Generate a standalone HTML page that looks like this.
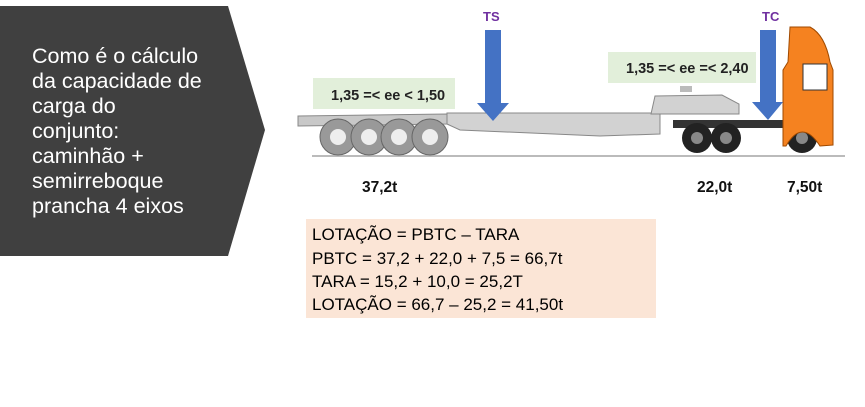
<!DOCTYPE html>
<html><head><meta charset="utf-8"><style>
body{margin:0;background:#fff;width:865px;height:402px;overflow:hidden}
</style></head><body>
<svg width="865" height="402" viewBox="0 0 865 402" xmlns="http://www.w3.org/2000/svg" font-family="Liberation Sans, sans-serif">
<polygon points="0,6 228,6 265,130 228,256 0,256" fill="#404040"/>
<g fill="#fff" font-size="21.5">
<text x="32" y="63">Como é o cálculo</text>
<text x="32" y="88">da capacidade de</text>
<text x="32" y="113">carga do</text>
<text x="32" y="138">conjunto:</text>
<text x="32" y="163">caminhão +</text>
<text x="32" y="188">semirreboque</text>
<text x="32" y="213">prancha 4 eixos</text>
</g>
<!-- green boxes -->
<rect x="313" y="78" width="142" height="31" fill="#e2efda"/>
<text x="331" y="100" font-size="14.5" font-weight="bold" fill="#222">1,35 =&lt; ee &lt; 1,50</text>
<rect x="608" y="52" width="148" height="31" fill="#e2efda"/>
<text x="626" y="73" font-size="14.5" font-weight="bold" fill="#222">1,35 =&lt; ee =&lt; 2,40</text>
<!-- ground -->
<line x1="312" y1="156" x2="845" y2="156" stroke="#bbb" stroke-width="2"/>
<!-- trailer -->
<polygon points="298,116 447,114 447,124 298,126" fill="#c8c8c8" stroke="#888"/>
<polygon points="447,113 660,113 660,134 600,136 460,130 447,124" fill="#d2d2d2" stroke="#888"/>
<polygon points="651,114 655,96 722,95 739,104 739,114" fill="#d2d2d2" stroke="#888"/>
<rect x="680" y="86" width="12" height="6" fill="#bbb"/>
<g fill="#999" stroke="#666">
<circle cx="338" cy="137" r="18"/><circle cx="369" cy="137" r="18"/><circle cx="399" cy="137" r="18"/><circle cx="430" cy="137" r="18"/>
</g>
<g fill="#eee"><circle cx="338" cy="137" r="8"/><circle cx="369" cy="137" r="8"/><circle cx="399" cy="137" r="8"/><circle cx="430" cy="137" r="8"/></g>
<!-- tractor chassis -->
<rect x="673" y="120" width="122" height="8" fill="#333"/>
<g fill="#222"><circle cx="697" cy="138" r="15"/><circle cx="726" cy="138" r="15"/><circle cx="802" cy="138" r="15"/></g>
<g fill="#888"><circle cx="697" cy="138" r="6"/><circle cx="726" cy="138" r="6"/><circle cx="802" cy="138" r="6"/></g>
<!-- cab -->
<path d="M790,27 L810,27 Q825,35 830,62 L833,70 L833,145 L820,146 Q802,118 786,146 L783,146 L783,70 L788,62 Z" fill="#f58220" stroke="#a04a00"/>
<rect x="803" y="64" width="24" height="26" fill="#fff" stroke="#333"/>
<!-- arrows -->
<polygon points="485,30 501,30 501,103 509,103 493,121 477,103 485,103" fill="#4472c4"/>
<polygon points="760,30 776,30 776,102 783,102 768,120 752,102 760,102" fill="#4472c4"/>
<text x="483" y="21" font-size="13" font-weight="bold" fill="#7030a0">TS</text>
<text x="762" y="21" font-size="13" font-weight="bold" fill="#7030a0">TC</text>
<g font-size="15.5" font-weight="bold" fill="#111">
<text x="362" y="192">37,2t</text>
<text x="697" y="192">22,0t</text>
<text x="787" y="192">7,50t</text>
</g>
<rect x="306" y="219" width="350" height="99" fill="#fbe5d6"/>
<g font-size="17" fill="#000">
<text x="312" y="240">LOTAÇÃO = PBTC – TARA</text>
<text x="312" y="264">PBTC = 37,2 + 22,0 + 7,5 = 66,7t</text>
<text x="312" y="287">TARA = 15,2 + 10,0 = 25,2T</text>
<text x="312" y="310">LOTAÇÃO = 66,7 – 25,2 = 41,50t</text>
</g>
</svg>
</body></html>
